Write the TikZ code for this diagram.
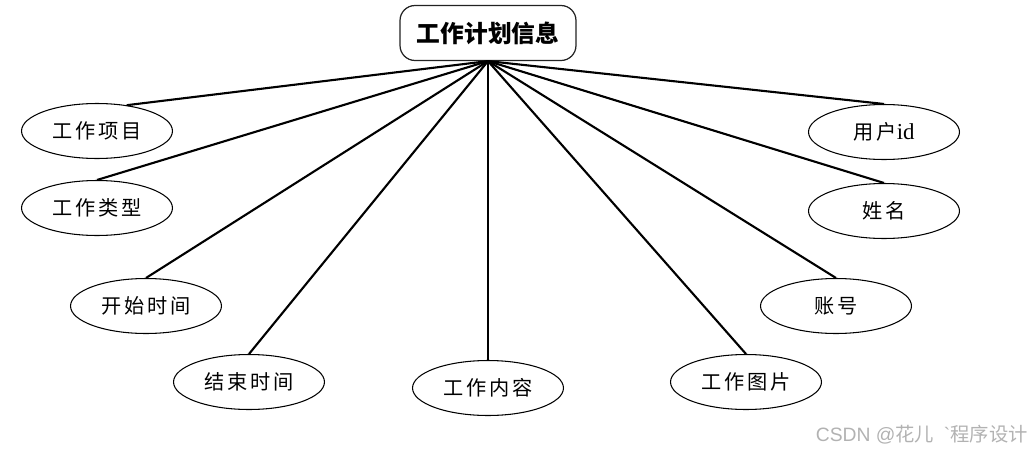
\documentclass[tikz,border=0pt]{standalone}
\usepackage{fontspec}
\usetikzlibrary{shapes.geometric}
\setmainfont{Liberation Serif}
\newfontfamily\cjk{Noto Sans CJK SC}
\newfontfamily\cjkwide[LetterSpace=15]{Noto Sans CJK SC}
\newfontfamily\wmfont{Liberation Sans}
\definecolor{ShadeLine}{HTML}{222222}

\begin{document}
\begin{tikzpicture}[x=0.02cm,y=-0.02cm,
  ent/.style={draw=ShadeLine,line width=0.7pt,rounded corners=0.3cm,minimum width=3.52cm,minimum height=1.1cm,inner sep=0pt,font=\fontsize{13.5}{16}\cjk\bfseries},
  attr/.style={draw=black,ellipse,line width=0.6pt,minimum width=3.02cm,minimum height=1.1cm,inner sep=0pt,font=\fontsize{11.5}{14}\cjkwide},
  link/.style={line width=1.2pt,black}]
  \useasboundingbox (0,0) rectangle (1031,453);
  \node[ent] (info) at (488,33) {工作计划信息};
  \node[attr] (xm) at (97,131) {工作项目};
  \node[attr] (lx) at (97,208) {工作类型};
  \node[attr] (ks) at (146,306) {开始时间};
  \node[attr] (js) at (249,382) {结束时间};
  \node[attr] (nr) at (488,388) {工作内容};
  \node[attr] (tp) at (746,382) {工作图片};
  \node[attr] (zh) at (836,306) {账号};
  \node[attr] (xmg) at (884,211) {姓名};
  \node[attr] (yh) at (884,132) {用户\rmfamily\fontsize{13}{14}\selectfont id};
  % watermark
  \node[anchor=east,text=black!30,font=\fontsize{11}{13}\wmfont,inner sep=0pt] (wm) at (1028,435) {CSDN @{\cjk 花儿}\enspace`{\cjk 程序设计}};
  \draw[link] (info.south) -- (xm.41);
  \foreach \y in {lx,ks,js,nr,tp,zh,xmg,yh}{\draw[link] (info.south) -- (\y.north);}
\end{tikzpicture}
\end{document}
